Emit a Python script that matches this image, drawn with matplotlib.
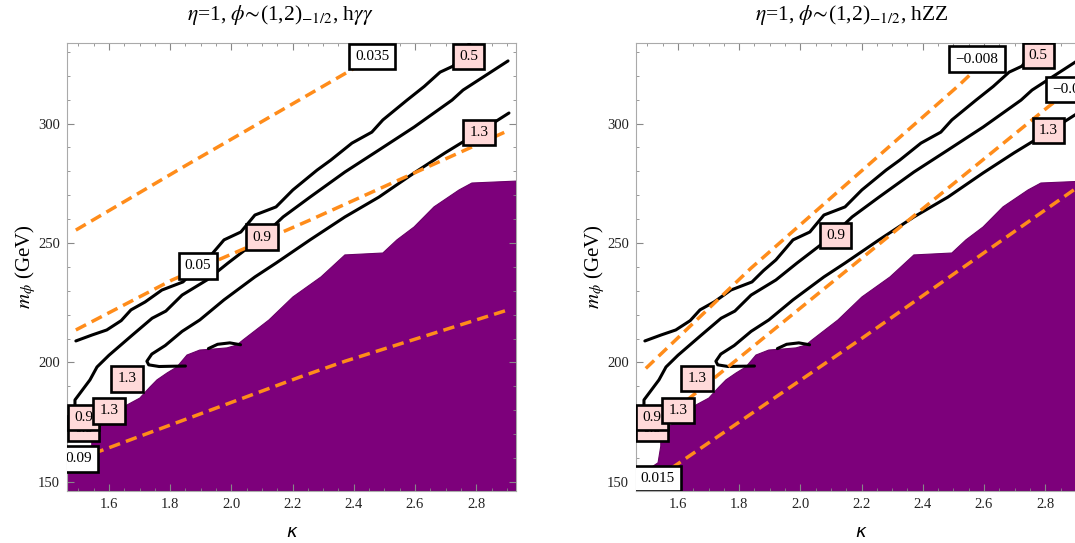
import matplotlib
matplotlib.use("Agg")
import matplotlib.pyplot as plt
from matplotlib.ticker import MultipleLocator

plt.rcParams['font.family'] = ['Liberation Serif', 'DejaVu Serif']
plt.rcParams['mathtext.fontset'] = 'stix'

# --- axis ranges (kappa, m_phi in GeV) ---
k_lim = (1.463, 2.93)
m_lim = (146.2, 333.7)

# --- black contours (same in both panels) ---
c05_k = [1.492, 1.545, 1.593, 1.640, 1.672, 1.718, 1.773, 1.842, 1.880, 1.920, 1.976, 2.031,
         2.077, 2.146, 2.201, 2.280, 2.325, 2.394, 2.459, 2.495, 2.574, 2.630, 2.682, 2.724, 2.78]
c05_m = [209.0, 211.5, 213.6, 217.5, 222.0, 225.3, 230.3, 233.7, 238.5, 242.9, 251.3, 254.6,
         261.7, 265.1, 272.2, 280.5, 284.7, 291.8, 296.4, 301.5, 309.8, 315.5, 321.5, 324.0, 334.0]

c09_k = [1.489, 1.489, 1.538, 1.561, 1.600, 1.675, 1.741, 1.786, 1.839, 1.920, 1.989, 2.100,
         2.169, 2.257, 2.371, 2.482, 2.597, 2.721, 2.757, 2.904]
c09_m = [176.0, 184.3, 192.7, 198.1, 203.0, 211.3, 218.5, 221.5, 228.2, 234.5, 241.6, 252.5,
         260.9, 269.2, 279.7, 288.9, 298.5, 309.8, 314.0, 326.2]

c13_k = [1.850, 1.800, 1.764, 1.730, 1.724, 1.740, 1.784, 1.839, 1.897, 1.976, 2.077, 2.146,
         2.257, 2.371, 2.482, 2.597, 2.698, 2.809, 2.907]
c13_m = [198.5, 198.4, 198.3, 199.0, 200.5, 203.5, 207.1, 213.0, 217.8, 226.2, 235.8, 241.6,
         251.3, 260.9, 269.2, 279.3, 287.7, 296.4, 304.4]

arc_k = [1.925, 1.955, 1.995, 2.030]
arc_m = [205.8, 207.6, 208.2, 207.4]

# --- excluded (purple) region boundary ---
reg_k = [1.463, 1.463, 1.500, 1.535, 1.544, 1.544, 1.554, 1.603, 1.636, 1.659, 1.701, 1.734,
         1.757, 1.790, 1.822, 1.855, 1.897, 1.940, 1.986, 2.018, 2.038, 2.123, 2.201, 2.293,
         2.371, 2.495, 2.541, 2.597, 2.662, 2.744, 2.786, 2.93, 2.93]
reg_m = [146.2, 153.5, 155.0, 158.0, 165.0, 167.6, 172.6, 175.1, 178.0, 182.2, 185.1, 189.7,
         192.7, 195.6, 198.1, 203.1, 205.2, 205.6, 206.1, 207.3, 209.4, 217.8, 227.4, 235.8,
         245.0, 245.8, 251.3, 256.7, 265.1, 272.2, 275.1, 275.9, 146.2]

# --- orange dashed contours, h-gamma-gamma panel ---
gg1_k = [1.492, 1.852, 2.420, 2.50]
gg1_m = [255.4, 282.5, 324.5, 330.0]
gg2_k = [1.492, 1.806, 2.257, 2.904]
gg2_m = [213.6, 234.5, 259.6, 297.0]
gg3_k = [1.495, 1.564, 2.224, 2.371, 2.904]
gg3_m = [158.5, 162.6, 193.9, 200.5, 222.0]

# --- orange dashed contours, hZZ panel ---
zz1_k = [1.495, 1.839, 2.518, 2.60]
zz1_m = [197.5, 239.5, 316.0, 326.0]
zz2_k = [1.495, 2.257, 2.807, 2.88]
zz2_m = [170.2, 249.5, 306.7, 314.0]
zz3_k = [1.530, 1.600, 2.200, 2.93]
zz3_m = [151.5, 157.6, 210.0, 275.5]

# --- contour labels: text, kappa, m, kind (p = pink, w = white), later ones on top ---
gg_labels = [("0.5", 1.518, 172.4, "p"), ("0.9", 1.518, 176.8, "p"), ("1.3", 1.600, 179.7, "p"),
             ("1.3", 1.659, 193.1, "p"), ("0.09", 1.500, 159.6, "w"), ("0.05", 1.891, 240.4, "w"),
             ("0.9", 2.100, 252.5, "p"), ("1.3", 2.809, 296.4, "p"), ("0.035", 2.460, 328.0, "w"),
             ("0.5", 2.776, 328.0, "p")]
zz_labels = [("0.5", 1.515, 172.5, "p"), ("0.9", 1.515, 176.9, "p"), ("1.3", 1.600, 179.8, "p"),
             ("1.3", 1.662, 193.3, "p"), ("0.015", 1.534, 151.3, "w"), ("0.9", 2.115, 253.0, "p"),
             ("1.3", 2.810, 297.0, "p"), ("\u22120.008", 2.577, 327.0, "w"),
             ("0.5", 2.777, 328.6, "p"), ("\u22120.004", 2.892, 314.3, "w")]

titles = [r"$\eta$=1, $\phi\!\sim\!$(1,2)$_{-1/2}$, h$\gamma\gamma$",
          r"$\eta$=1, $\phi\!\sim\!$(1,2)$_{-1/2}$, hZZ"]

PURPLE = '#7d007b'
ORANGE = '#ff8c1a'
PINK = '#ffd9d9'


def draw_panel(ax, orange, labels, title, title_x):
    ax.fill(reg_k, reg_m, color=PURPLE, lw=0.8, ec='#6a0068', zorder=1)
    for ks, ms in [(c05_k, c05_m), (c09_k, c09_m), (c13_k, c13_m), (arc_k, arc_m)]:
        ax.plot(ks, ms, color='black', lw=2.2, solid_capstyle='round',
                solid_joinstyle='round', zorder=3)
    for ks, ms in orange:
        ax.plot(ks, ms, color=ORANGE, lw=2.5, ls=(0, (3.3, 1.8)), zorder=4)
    for i, (txt, k, m, kind) in enumerate(labels):
        ax.text(k, m, txt, ha='center', va='center', fontsize=11, zorder=5 + i,
                bbox=dict(boxstyle='square,pad=0.4', fc=PINK if kind == 'p' else 'white',
                          ec='black', lw=1.9), clip_on=True)

    ax.set_xlim(*k_lim)
    ax.set_ylim(*m_lim)
    ax.xaxis.set_major_locator(MultipleLocator(0.2))
    ax.xaxis.set_minor_locator(MultipleLocator(0.05))
    ax.yaxis.set_major_locator(MultipleLocator(50))
    ax.yaxis.set_minor_locator(MultipleLocator(10))
    ax.tick_params(which='both', direction='in', top=True, right=True, color='#888888',
                   labelsize=10.5, labelcolor='#222222', pad=5)
    ax.tick_params(which='major', length=5)
    ax.tick_params(which='minor', length=2.5)
    for sp in ax.spines.values():
        sp.set_color('#aaaaaa')
        sp.set_linewidth(0.8)

    ax.set_xlabel('κ', family='DejaVu Sans', style='italic', fontsize=13, labelpad=9)
    ax.set_ylabel(r'$m_\phi$ (GeV)', fontsize=15, labelpad=0)
    ax.text(title_x, 1.063, title, transform=ax.transAxes, ha='center', va='center',
            fontsize=15.5)


fig = plt.figure(figsize=(10.75, 5.43), dpi=100)
W, H = 1075, 543
ax1 = fig.add_axes([67 / W, (H - 491) / H, 449 / W, 448 / H])
ax2 = fig.add_axes([636 / W, (H - 491) / H, 449 / W, 448 / H])

draw_panel(ax1, [(gg1_k, gg1_m), (gg2_k, gg2_m), (gg3_k, gg3_m)], gg_labels, titles[0], 0.475)
draw_panel(ax2, [(zz1_k, zz1_m), (zz2_k, zz2_m), (zz3_k, zz3_m)], zz_labels, titles[1], 0.481)

fig.savefig('out.png', dpi=100)
